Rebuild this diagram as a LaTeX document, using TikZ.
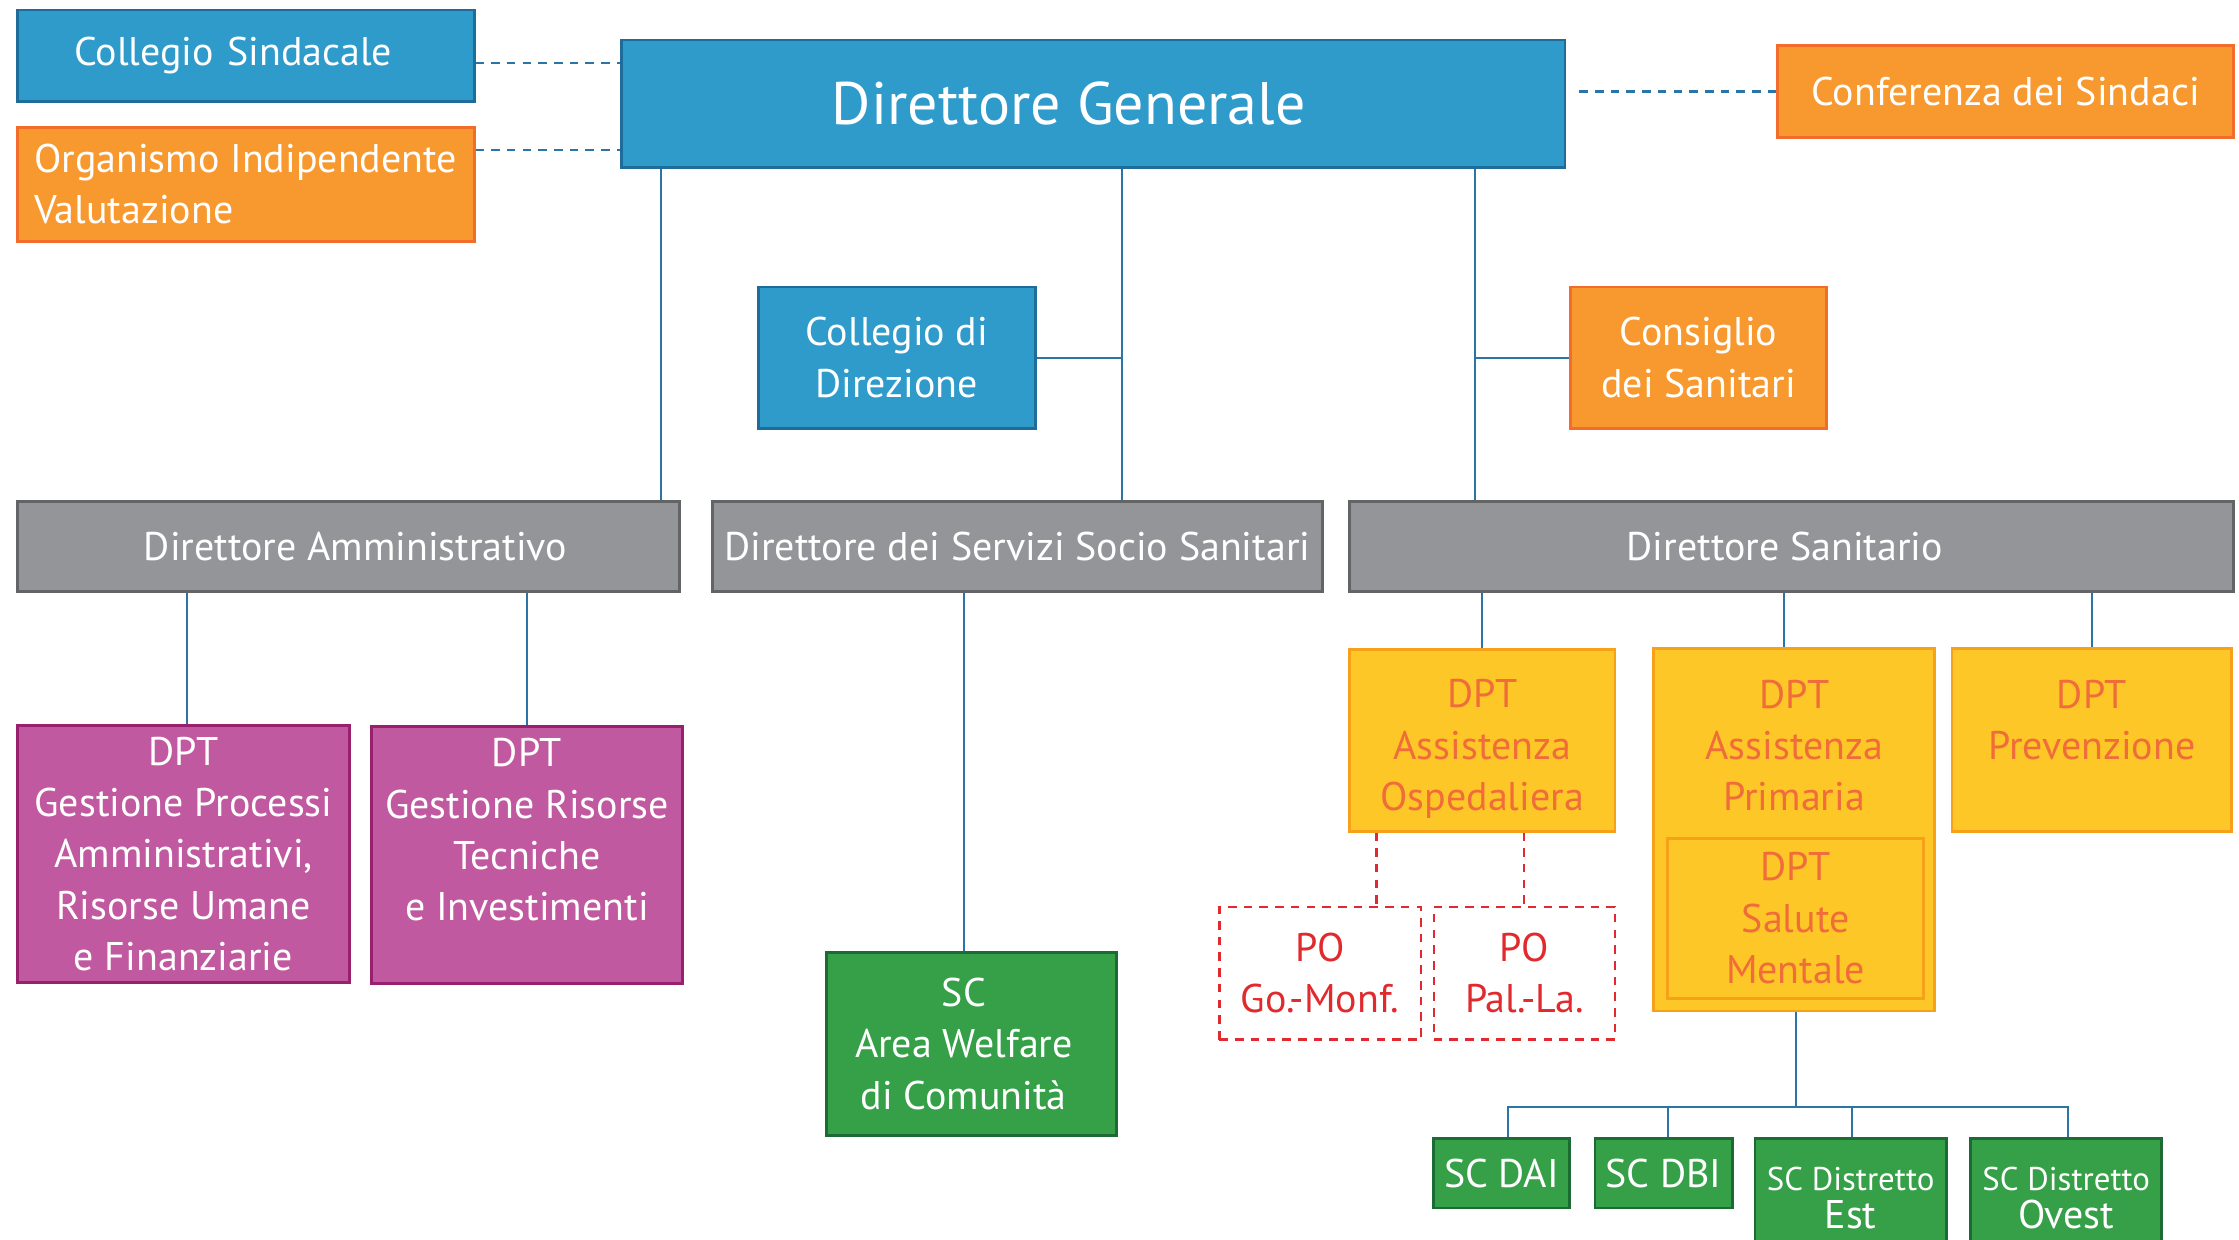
\documentclass[tikz,border=0pt]{standalone}
\usepackage{fontspec}
\setmainfont{PT Sans}
\usepackage{tikz}
\usetikzlibrary{positioning}

\definecolor{bluefill}{HTML}{2E9BCB}
\definecolor{blueline}{HTML}{1E6C99}
\definecolor{orangefill}{HTML}{F7992F}
\definecolor{orangeline}{HTML}{F26C2B}
\definecolor{greyfill}{HTML}{939598}
\definecolor{greyline}{HTML}{636466}
\definecolor{pinkfill}{HTML}{C059A0}
\definecolor{pinkline}{HTML}{98206F}
\definecolor{greenfill}{HTML}{35A047}
\definecolor{greenline}{HTML}{1C6B34}
\definecolor{yellowfill}{HTML}{FDC827}
\definecolor{yellowline}{HTML}{F7A11A}
\definecolor{dpttext}{HTML}{F06C3A}
\definecolor{pored}{HTML}{E02A2E}
\definecolor{linecol}{HTML}{2B74A6}

\tikzstyle{line} = [draw=linecol, line width=1.3pt]
\tikzstyle{dashline} = [draw=linecol, line width=1.6pt, dash pattern=on 6pt off 5pt]
\tikzstyle{podash} = [draw=pored, line width=1.6pt, dash pattern=on 6pt off 5pt]
\tikzstyle{box} = [rectangle, line width=2pt, inner sep=0pt, align=center, text=white, font=\fontsize{28}{36}\selectfont]
\tikzstyle{bluebox} = [box, draw=blueline, fill=bluefill]
\tikzstyle{orangebox} = [box, draw=orangeline, fill=orangefill]
\tikzstyle{greybox} = [box, draw=greyline, fill=greyfill]
\tikzstyle{pinkbox} = [box, draw=pinkline, fill=pinkfill]
\tikzstyle{greenbox} = [box, draw=greenline, fill=greenfill]
\tikzstyle{dptbox} = [box, draw=yellowline, fill=yellowfill, text=dpttext]
\tikzstyle{pobox} = [box, podash, text=pored]

\begin{document}
\begin{tikzpicture}[x=1pt, y=-1pt]
\useasboundingbox (0,0) rectangle (1568,868);
\clip (0,0) rectangle (1568,868);
% Place nodes
\node [bluebox, minimum width=661pt, minimum height=89pt, font=\fontsize{42}{48}\selectfont] (dg) at (765.5,72.5) {\hspace*{-34pt}Direttore Generale};
\node [bluebox, minimum width=320pt, minimum height=64pt, text width=240pt, align=left] (colsind) at (172,39) {Collegio Sindacale};
\node [orangebox, minimum width=320pt, minimum height=80pt, align=left] (oiv) at (172,129) {Organismo Indipendente\\Valutazione};
\node [orangebox, minimum width=319pt, minimum height=64pt] (confsind) at (1404.5,64) {Conferenza dei Sindaci};
\node [bluebox, minimum width=194pt, minimum height=99pt] (coldir) at (628,250.5) {Collegio di\\Direzione};
\node [orangebox, minimum width=179pt, minimum height=99pt] (consan) at (1189.5,250.5) {Consiglio\\dei Sanitari};

\node [greybox, minimum width=464pt, minimum height=63pt] (diramm) at (244,382.5) {\hspace*{10pt}Direttore Amministrativo};
\node [greybox, minimum width=427pt, minimum height=63pt] (dirsss) at (712.5,382.5) {Direttore dei Servizi Socio Sanitari};
\node [greybox, minimum width=619pt, minimum height=63pt] (dirsan) at (1254.5,382.5) {\hspace*{-9pt}Direttore Sanitario};

\node [pinkbox, minimum width=233pt, minimum height=180pt] (gpa) at (128.5,598) {DPT\\Gestione Processi\\Amministrativi,\\Risorse Umane\\e Finanziarie};
\node [pinkbox, minimum width=218pt, minimum height=180pt] (grt) at (369,599) {DPT\\Gestione Risorse\\Tecniche\\e Investimenti\\\mbox{}};
\node [greenbox, minimum width=203pt, minimum height=128pt] (welfare) at (680.5,731) {\hspace*{-11pt}SC\\\hspace*{-11pt}Area Welfare\\\hspace*{-11pt}di Comunità};

\node [dptbox, minimum width=186pt, minimum height=127pt] (dao) at (1038,518.5) {\mbox{}\\[-4pt]DPT\\Assistenza\\Ospedaliera};
\node [dptbox, minimum width=197pt, minimum height=254pt] (dap) at (1256.5,581) {DPT\\Assistenza\\Primaria\\[82pt]\mbox{}};
\node [dptbox, minimum width=179pt, minimum height=112pt] (dsm) at (1257.5,643) {DPT\\Salute\\Mentale};
\node [dptbox, minimum width=196pt, minimum height=128pt] (prev) at (1465,518) {DPT\\Prevenzione\\[-8pt]\mbox{}};

\node [pobox, minimum width=141pt, minimum height=93pt] (pogm) at (924.5,681.5) {PO\\Go.-Monf.};
\node [pobox, minimum width=127pt, minimum height=93pt] (popl) at (1067.5,681.5) {PO\\Pal.-La.};

\node [greenbox, minimum width=95pt, minimum height=49pt] (dai) at (1051.5,821.5) {SC DAI};
\node [greenbox, minimum width=96pt, minimum height=49pt] (dbi) at (1165,821.5) {SC DBI};
\node [greenbox, minimum width=134pt, minimum height=84pt] (est) at (1296,839) {{\fontsize{23}{27}\selectfont SC Distretto}\\[-9pt]Est};
\node [greenbox, minimum width=134pt, minimum height=84pt] (ovest) at (1447,839) {{\fontsize{23}{27}\selectfont SC Distretto}\\[-9pt]Ovest};
\coordinate (fork) at (1258,775);

% Draw edges
\path [dashline] ([yshift=-5pt]colsind.east) -- ([yshift=-5pt]colsind.east -| dg.west);
\path [dashline] ([yshift=24pt]oiv.east) -- ([yshift=24pt]oiv.east -| dg.west);
\path [dashline] (confsind.west) -- ([xshift=7pt]confsind.west -| dg.east);
\path [line] ([xshift=-14pt]diramm.north east) -- ([xshift=-14pt]diramm.north east |- dg.south);
\path [line] ([xshift=73.5pt]dirsss.north) -- ([xshift=73.5pt]dirsss.north |- dg.south);
\path [line] (coldir.east) -- ([xshift=73.5pt]dirsss.north |- coldir.east);
\path [line] ([xshift=89pt]dirsan.north west) -- ([xshift=89pt]dirsan.north west |- dg.south);
\path [line] (consan.west) -- ([xshift=89pt]dirsan.north west |- consan.west);
\path [line] ([xshift=2.5pt]gpa.north |- diramm.south) -- ([xshift=2.5pt]gpa.north);
\path [line] (grt.north |- diramm.south) -- (grt.north);
\path [line] ([xshift=-5.5pt]welfare.north |- dirsss.south) -- ([xshift=-5.5pt]welfare.north);
\path [line] (dao.north |- dirsan.south) -- (dao.north);
\path [line] ([xshift=-7pt]dap.north |- dirsan.south) -- ([xshift=-7pt]dap.north);
\path [line] (prev.north |- dirsan.south) -- (prev.north);
\path [podash] ([xshift=39.5pt]pogm.north |- dao.south) -- ([xshift=39.5pt]pogm.north);
\path [podash] (popl.north |- dao.south) -- (popl.north);
\path [line] (dap.south -| fork) -- (fork);
\path [line] ([xshift=4.5pt]dai.north) |- (fork);
\path [line] ([xshift=3pt]dbi.north) |- (fork);
\path [line] ([xshift=1pt]est.north) |- (fork);
\path [line] ([xshift=1pt]ovest.north) |- (fork);
\end{tikzpicture}
\end{document}
